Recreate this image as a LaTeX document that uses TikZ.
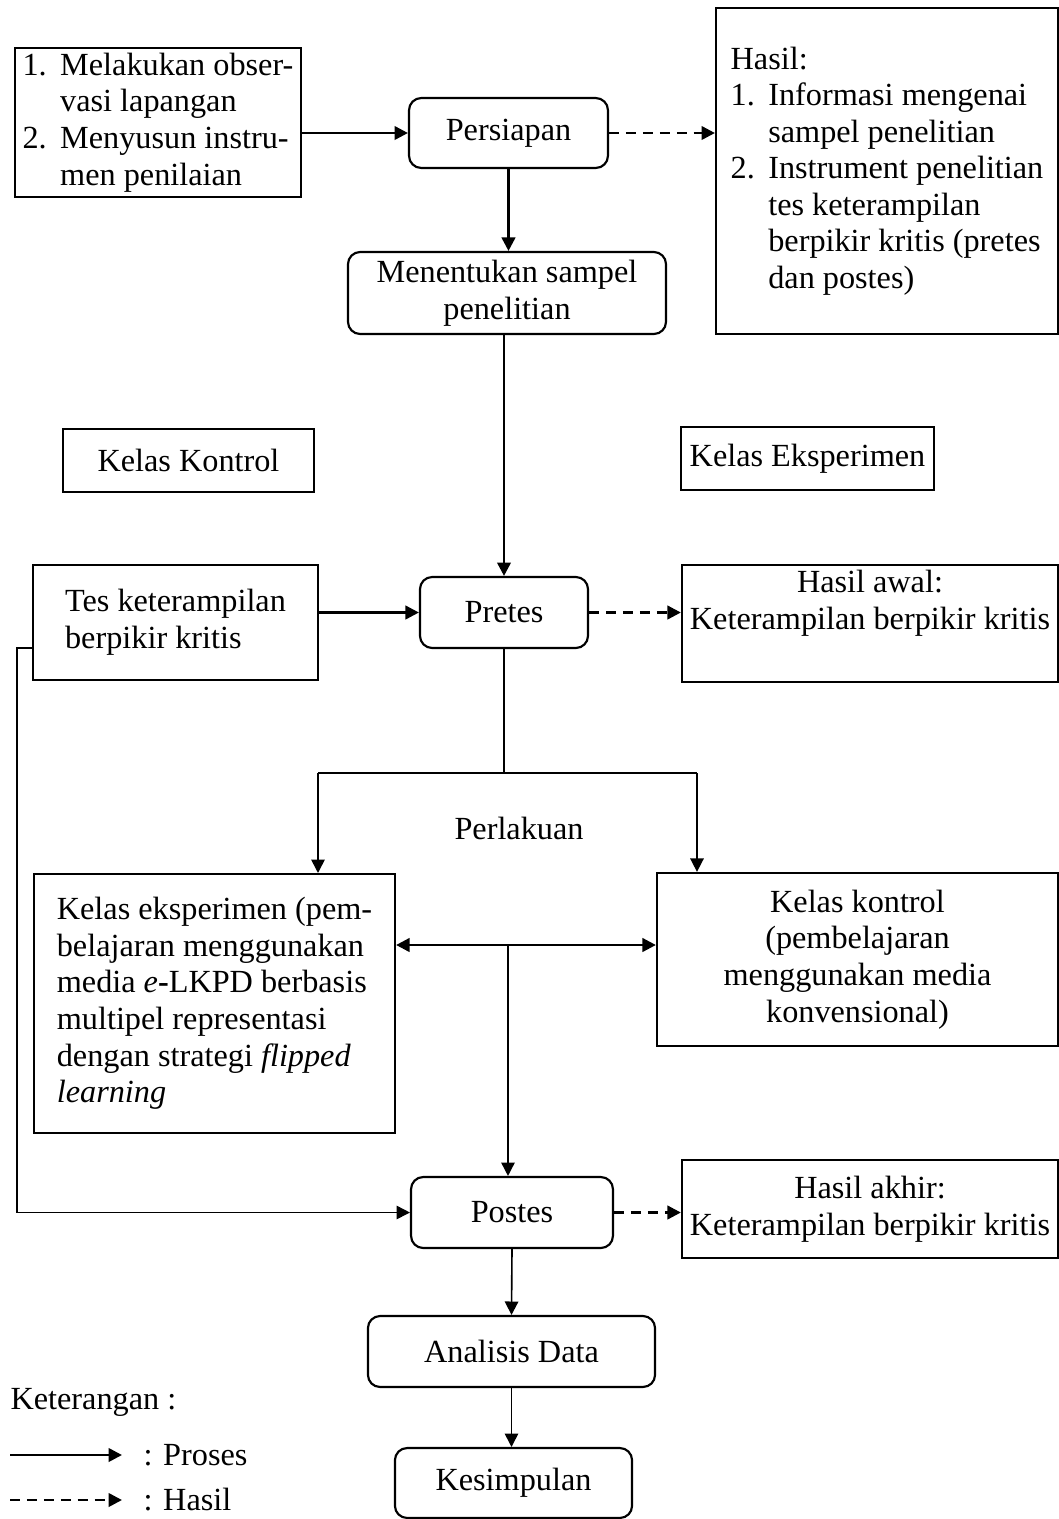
\documentclass[tikz,border=0pt]{standalone}
\usepackage{fontspec}
\setmainfont{Liberation Serif}
\usepackage{tikz}
\usetikzlibrary{arrows.meta, positioning, calc}

\newcommand{\butir}[1]{\makebox[14pt][l]{#1}}
\newcommand{\sisip}{\hspace*{14pt}}

\begin{document}
\begin{tikzpicture}[
  x=0.372pt, y=-0.372pt,
  every node/.style = {font=\fontsize{12}{13.6}\selectfont},
  kotak/.style = {rectangle, draw=black, line width=0.8pt,
                  align=center, inner sep=2pt},
  tahap/.style = {kotak, rounded corners=4.5pt},
  proses/.style = {-{Triangle[length=5pt,width=5pt]}, line width=1pt},
  hasil/.style = {proses, dash pattern=on 3.7pt off 2.6pt},
  garis/.style = {line width=0.6pt},
  alur/.style = {garis, -{Triangle[length=5pt,width=5pt]}},
]
  \useasboundingbox (0,0) rectangle (1059,1519);

  % tahap persiapan
  \node[kotak, align=left, minimum width=106.4pt, minimum height=55.4pt]
    (observasi) at (158,122.5)
    {\butir{1.}Melakukan obser-\\\sisip vasi lapangan\\
     \butir{2.}Menyusun instru-\\\sisip men penilaian};
  \node[tahap, minimum width=74pt, minimum height=26pt]
    (persiapan) at (508.5,133) {Persiapan};
  \node[kotak, align=left, minimum width=127.2pt, minimum height=121.3pt]
    (hasil) at (887,171)
    {Hasil:\\\butir{1.}Informasi mengenai\\\sisip sampel penelitian\\
     \butir{2.}Instrument penelitian\\\sisip tes keterampilan\\
     \sisip berpikir kritis (pretes\\\sisip dan postes)};
  \node[tahap, minimum width=118.3pt, minimum height=30.5pt]
    (sampel) at (507,293) {Menentukan sampel\\penelitian};

  \node[kotak, minimum width=93.4pt, minimum height=23.4pt]
    (kontrolkecil) at (188.5,460.5) {Kelas Kontrol};
  \node[kotak, minimum width=94.1pt, minimum height=23.4pt]
    (eksperimenkecil) at (807.5,458.5) {Kelas Eksperimen};

  % pretes
  \node[kotak, align=left, minimum width=106pt, minimum height=42.8pt]
    (tes) at (175.5,622.5) {Tes keterampilan\\berpikir kritis};
  \node[tahap, minimum width=62.5pt, minimum height=26.4pt]
    (pretes) at (504,612.5) {Pretes};
  \node[kotak, minimum width=139.9pt, minimum height=43.5pt]
    (hasilawal) at (870,623.5)
    {Hasil awal:\\Keterampilan berpikir kritis\\\strut};

  % perlakuan
  \node (perlakuan) at (519,828) {Perlakuan};
  \node[kotak, align=left, minimum width=134.3pt, minimum height=96.3pt]
    (eksperimen) at (214.5,1003.5)
    {Kelas eksperimen (pem-\\belajaran menggunakan\\
     media \textit{e}\textbf{-}LKPD berbasis\\multipel representasi\\
     dengan strategi \textit{flipped}\\\textit{learning}};
  \node[kotak, minimum width=149.2pt, minimum height=64.4pt]
    (kontrol) at (857.5,959.5)
    {Kelas kontrol\\(pembelajaran\\menggunakan media\\konvensional)};

  % postes dan akhir
  \node[tahap, minimum width=75.1pt, minimum height=26.4pt]
    (postes) at (512,1212.5) {Postes};
  \node[kotak, minimum width=139.9pt, minimum height=36.5pt]
    (hasilakhir) at (870,1209) {Hasil akhir:\\Keterampilan berpikir kritis};
  \node[tahap, minimum width=106.8pt, minimum height=26.4pt]
    (analisis) at (511.5,1351.5) {Analisis Data};
  \node[tahap, minimum width=88.2pt, minimum height=26pt]
    (kesimpulan) at (513.5,1483) {Kesimpulan};

  % keterangan
  \node[anchor=west, inner sep=0pt] (keterangan) at (10,1402) {Keterangan :};
  \node[anchor=west, inner sep=0pt] (ketproses) at (143,1455) {: Proses};
  \node[anchor=west, inner sep=0pt] (kethasil) at (143,1500) {: Hasil};
  \coordinate (lgA) at (10,1455);
  \coordinate (lgB) at (122,1455);
  \coordinate (lgC) at (10,1500);
  \coordinate (lgD) at (122,1500);

  % titik bantu
  \coordinate (cabang) at (504,773);
  \coordinate (cabangkiri) at (318,773);
  \coordinate (cabangkanan) at (697,773);
  \coordinate (tengah) at (508,945);
  \coordinate (balik) at (17,648);

  % panah
  \draw[proses] (observasi.east |- persiapan) -- (persiapan.west);
  \draw[hasil] (persiapan.east) -- (persiapan -| hasil.west);
  \draw[proses] (persiapan.south) -- (persiapan.south |- sampel.north);
  \draw[proses] (sampel.south -| pretes) -- (pretes.north);

  \draw[proses] (tes.east |- pretes) -- (pretes.west);
  \draw[hasil] (pretes.east) -- (pretes -| hasilawal.west);

  \draw[garis] (pretes.south) -- (cabang);
  \draw[garis] (cabangkiri) -- (cabangkanan);
  \draw[alur] (cabangkiri) -- (cabangkiri |- eksperimen.north);
  \draw[alur] (cabangkanan) -- (cabangkanan |- kontrol.north);

  \draw[proses, <->, >={Triangle[length=5pt,width=5pt]}]
    (tengah -| eksperimen.east) -- (tengah -| kontrol.west);
  \draw[alur] (tengah) -- (tengah |- postes.north);

  \draw[alur] (balik -| tes.west) -- (balik) |- (postes.west);
  \draw[hasil] (postes.east) -- (postes -| hasilakhir.west);
  \draw[alur] (postes.south) -- (analisis.north);
  \draw[alur] (analisis.south) -- (analisis.south |- kesimpulan.north);

  \draw[proses] (lgA) -- (lgB);
  \draw[hasil] (lgC) -- (lgD);
\end{tikzpicture}
\end{document}
